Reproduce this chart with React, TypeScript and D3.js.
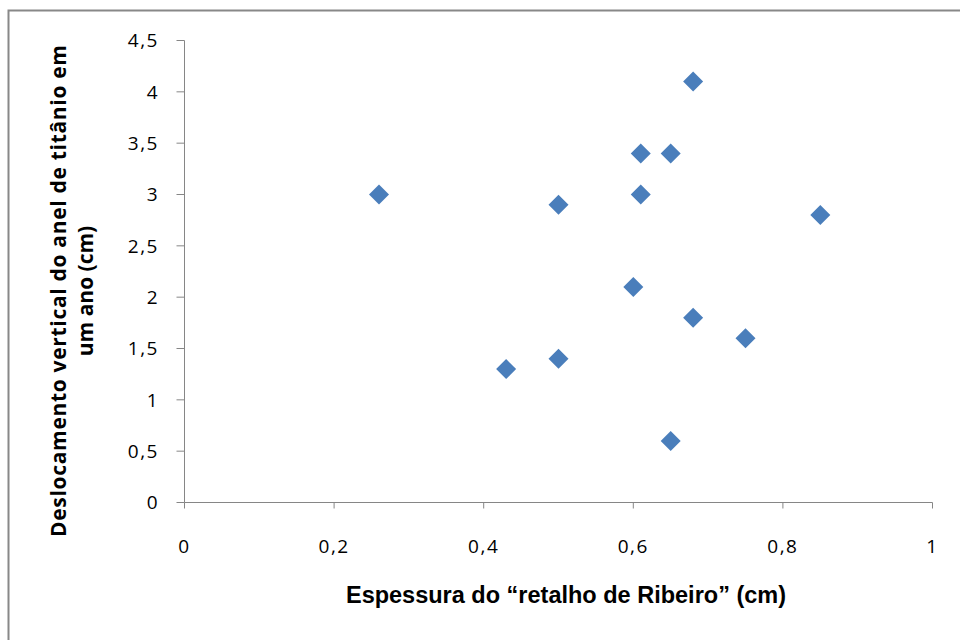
import * as React from 'react';
import * as d3 from 'd3';

// espessura (cm) vs deslocamento (cm)
const xValues = [0.26, 0.43, 0.5, 0.5, 0.6, 0.61, 0.61, 0.65, 0.65, 0.68, 0.68, 0.75, 0.85];
const yValues = [3.0, 1.3, 2.9, 1.4, 2.1, 3.4, 3.0, 3.4, 0.6, 4.1, 1.8, 1.6, 2.8];
const xTicks = [0, 0.2, 0.4, 0.6, 0.8, 1];
const yTicks = [0, 0.5, 1, 1.5, 2, 2.5, 3, 3.5, 4, 4.5];
const xTitle = 'Espessura do “retalho de Ribeiro” (cm)';
const yTitle = ['Deslocamento vertical do anel de titânio em', 'um ano (cm)'];

const fmt = (v: number) => String(v).replace('.', ',');

export default function App() {
  const width = 960;
  const height = 640;
  const x = d3.scaleLinear().domain([0, 1]).range([184.5, 932.5]);
  const y = d3.scaleLinear().domain([0, 4.5]).range([502.5, 40.5]);
  const axisColor = '#868686';
  const tickFont = '"Open Sans", "Noto Sans", sans-serif';
  const titleFont = '"Liberation Sans", Arial, sans-serif';
  const r = 10;
  const diamond = `M0,${-r}L${r},0L0,${r}L${-r},0Z`;

  return (
    <svg width={width} height={height} style={{ position: 'absolute', left: 0, top: 0 }}>
      <rect x={0} y={0} width={width} height={height} fill="#fff" />
      <rect x={8.5} y={10.5} width={width + 20} height={height + 20} fill="none" stroke="#888" strokeWidth={2} />
      {/* axes */}
      <line x1={x(0)} x2={x(0)} y1={y(4.5)} y2={y(0)} stroke={axisColor} />
      <line x1={x(0)} x2={x(1)} y1={y(0)} y2={y(0)} stroke={axisColor} />
      {yTicks.map(t => (
        <g key={'y' + t}>
          <line x1={x(0) - 8} x2={x(0)} y1={y(t)} y2={y(t)} stroke={axisColor} />
          <text x={159} y={y(t)} dy="0.36em" textAnchor="end" fontFamily={tickFont} fontSize={19} letterSpacing={1.5} fill="#000">
            {fmt(t)}
          </text>
        </g>
      ))}
      {xTicks.map(t => (
        <g key={'x' + t}>
          <line x1={x(t)} x2={x(t)} y1={y(0)} y2={y(0) + 6} stroke={axisColor} />
          <text x={x(t)} y={553} textAnchor="middle" fontFamily={tickFont} fontSize={19} letterSpacing={1.5} fill="#000">
            {fmt(t)}
          </text>
        </g>
      ))}
      {/* points */}
      {xValues.map((v, i) => (
        <path key={i} d={diamond} transform={`translate(${x(v)},${y(yValues[i])})`} fill="#4A7EBB" />
      ))}
      {/* titles */}
      <text x={566} y={603} textAnchor="middle" fontFamily={titleFont} fontWeight="bold" fontSize={23.5} fill="#000">
        {xTitle}
      </text>
      <text transform="translate(0,291) rotate(-90)" textAnchor="middle" fontFamily={tickFont} fontWeight="bold" fontSize={21} fill="#000">
        <tspan x={0} y={66} textLength={492} lengthAdjust="spacing">{yTitle[0]}</tspan>
        <tspan x={0} y={93}>{yTitle[1]}</tspan>
      </text>
    </svg>
  );
}
